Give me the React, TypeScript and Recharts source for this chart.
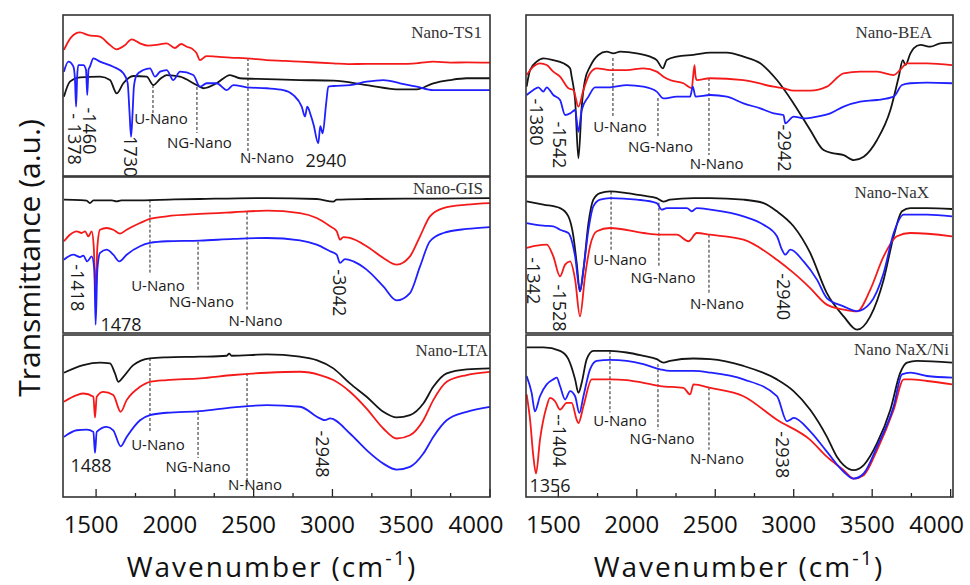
import { LineChart, Line, XAxis, YAxis, ReferenceLine, ReferenceDot } from 'recharts';

type Pt = [number, number]; // [wavenumber, transmittance a.u.]

// ---------- Nano-TS1 ----------
const ts1Black: Pt[] = [[1296,49.3],[1334,58.6],[1398,61.3],[1525,61.7],[1588,59.6],[1631,51.3],[1673,57.6],[1736,62.1],[1821,61.7],[1863,56.5],[1906,60.2],[1948,62.7],[2033,61.7],[2138,56.5],[2181,54.5],[2265,57.6],[2350,62.7],[2413,60.7],[2583,60.2],[2794,59.6],[3006,59.2],[3217,56.5],[3429,53.8],[3535,53.8],[3640,57.6],[3746,59.6],[3852,60.7],[4000,60.7]];
const ts1Red: Pt[] = [[1296,78.3],[1340,86],[1398,89.2],[1450,87.5],[1525,86.5],[1580,82],[1631,78.7],[1680,81],[1726,84.9],[1779,82.4],[1830,81],[1884,81.4],[1948,82.4],[2000,79.5],[2040,82],[2075,80.3],[2110,79],[2138,76.2],[2159,72],[2200,74.5],[2265,74.1],[2350,73.5],[2456,73.1],[2583,72],[2700,71.5],[2794,71],[2900,70.5],[3006,70],[3100,69.5],[3217,69.6],[3429,69.6],[3550,70.2],[3640,71],[3750,70.4],[3852,70.6],[4000,70.4]];
const ts1Blue: Pt[] = [[1296,64.8],[1324,71],[1356,67.9],[1366,60],[1373,43.1],[1380,62],[1387,68.9],[1419,68.9],[1436,66],[1444,50.3],[1452,66],[1461,67.9],[1483,73.1],[1525,71],[1609,67.9],[1673,63.8],[1700,58],[1712,40],[1722,24.4],[1732,40],[1740,55.5],[1758,62.7],[1800,65.8],[1842,66.9],[1874,61.7],[1906,64.8],[1948,65.8],[1990,59.6],[2033,64.8],[2117,62.7],[2159,55.5],[2202,57.6],[2265,57.6],[2329,53.4],[2371,56.5],[2456,55.1],[2583,54.5],[2688,53.4],[2752,50.3],[2805,43.1],[2826,36.9],[2840,43],[2862,37.9],[2880,32],[2910,20.3],[2923,31],[2938,26.5],[2960,45],[2974,55.5],[3006,55.9],[3111,56.5],[3217,58.6],[3323,59.6],[3429,57.6],[3535,55.5],[3640,53.4],[3852,53.4],[4000,53.4]];

// ---------- Nano-GIS ----------
const gisBlack: Pt[] = [[1296,85.5],[1400,85.2],[1440,84.8],[1461,83.3],[1483,85],[1600,85],[1631,84.4],[1660,85],[1736,85],[2000,85.6],[2159,85.9],[2583,86.5],[2900,85.9],[3006,84.2],[3027,85.5],[3217,85.9],[3640,86.2],[4000,86.5]];
const gisRed: Pt[] = [[1296,58.8],[1334,63],[1377,65.2],[1408,64.1],[1430,65.2],[1451,62],[1472,65.2],[1485,55.6],[1497,23.5],[1508,55],[1525,66.2],[1567,67.3],[1609,66.2],[1652,63.7],[1694,66.2],[1779,70.5],[1842,73.1],[1948,74.8],[2159,76.3],[2371,77.4],[2583,78.4],[2794,76.9],[2900,73.7],[2985,68.4],[3027,65.2],[3048,59.8],[3069,61.5],[3111,60.9],[3217,55.6],[3323,48.1],[3408,43.8],[3492,49.1],[3556,62],[3619,74.8],[3704,80.1],[3852,82.3],[4000,83.3]];
const gisBlue: Pt[] = [[1296,47],[1356,50.2],[1398,48.7],[1419,49.6],[1444,45.9],[1472,49.1],[1489,40.6],[1497,5.3],[1508,40.6],[1525,51.3],[1567,53.4],[1609,50.2],[1648,45.9],[1694,50.2],[1779,55.6],[1842,57.7],[1948,58.8],[2159,59.2],[2371,60.3],[2583,60.9],[2794,59.4],[2900,56.6],[2985,52.4],[3027,50.2],[3048,44.9],[3080,47.4],[3133,45.9],[3217,40.6],[3323,29.9],[3408,20.9],[3492,25.6],[3556,42.7],[3619,58.8],[3704,64.1],[3852,66.7],[4000,67.9]];

// ---------- Nano-LTA ----------
const ltaBlack: Pt[] = [[1296,76.7],[1419,81.4],[1525,82.9],[1588,82.5],[1620,76.3],[1641,71.1],[1673,74.2],[1736,81.4],[1842,85.6],[1948,86.2],[2159,86.6],[2329,87.2],[2345,88.5],[2360,87.2],[2583,88],[2794,86.6],[2900,84.5],[3006,79.4],[3111,70.1],[3217,61.9],[3323,52.6],[3408,49.1],[3492,50.5],[3577,57.7],[3640,68],[3725,76.3],[3852,78.8],[4000,79.4]];
const ltaRed: Pt[] = [[1296,58.8],[1377,62.9],[1419,63.9],[1483,61.9],[1493,49.1],[1504,61.9],[1546,64.9],[1609,62.9],[1656,52.6],[1694,59.8],[1779,68],[1842,71.1],[1948,72.2],[2159,73.2],[2371,75.3],[2583,76.7],[2794,77.3],[2921,75.3],[3006,72.2],[3111,65],[3217,54.6],[3323,42.3],[3408,36.1],[3492,38.1],[3577,47.4],[3640,59.8],[3725,71.1],[3852,75.3],[4000,77.3]];
const ltaBlue: Pt[] = [[1296,37.1],[1377,41.2],[1440,41.6],[1483,40.2],[1493,27.2],[1504,40.2],[1567,43.3],[1609,41.2],[1656,31.3],[1694,37.1],[1779,47.4],[1842,50.5],[1948,52],[2159,53],[2371,55.3],[2583,56.7],[2794,55.7],[2921,48.5],[2953,47.4],[2985,48.5],[3111,39.2],[3217,28.9],[3323,20.6],[3408,16.9],[3492,18.6],[3577,26.8],[3640,37.1],[3725,47.4],[3852,52.6],[4000,55.7]];

// ---------- Nano-BEA ----------
const beaBlack: Pt[] = [[1298,55.5],[1320,65.8],[1362,71],[1405,73.1],[1468,72],[1532,70],[1575,66.9],[1585,61.7],[1607,47.2],[1628,11],[1649,43.1],[1670,59.6],[1702,67.9],[1755,75.2],[1808,77.2],[1851,76.2],[1894,77.2],[2000,76.2],[2085,74.1],[2127,72],[2166,66.9],[2191,72],[2255,74.1],[2361,75.2],[2468,76.6],[2574,76.6],[2680,74.1],[2787,70],[2893,59.6],[2999,45.1],[3105,28.6],[3190,16.1],[3254,14.1],[3318,13],[3382,9.9],[3446,12],[3531,22.4],[3616,41],[3670,62],[3695,72],[3712,69],[3743,76],[3764,79.3],[3807,81.4],[3871,80.3],[3934,82.4],[4009,82.8]];
const beaRed: Pt[] = [[1298,62.7],[1341,67.9],[1383,70],[1426,68.9],[1468,64.8],[1511,61.7],[1564,54.5],[1596,53.4],[1628,43.1],[1660,53.4],[1702,63.8],[1745,66.9],[1830,65.8],[1936,65.8],[2042,66.9],[2127,64.8],[2170,61.7],[2212,59.6],[2297,57.6],[2351,54.5],[2357,60],[2368,68.9],[2374,62],[2382,59.6],[2468,60.7],[2680,59.6],[2872,55.5],[2935,54.5],[2999,53],[3105,53],[3211,55.5],[3318,63.8],[3424,64.8],[3531,64.8],[3637,62.7],[3679,66],[3722,70],[3849,70],[4009,68.9]];
const beaBlue: Pt[] = [[1298,50.3],[1341,53.4],[1373,55.1],[1405,52.4],[1426,55.1],[1468,50.3],[1511,47.2],[1543,37.9],[1575,38.9],[1607,41],[1628,27.5],[1649,41],[1692,49.3],[1734,55.1],[1830,55.1],[1936,56.5],[2042,55.5],[2127,52.4],[2170,48.2],[2255,49.3],[2340,49.3],[2357,55.5],[2374,49.3],[2468,50.3],[2574,49.3],[2680,45.1],[2787,42],[2872,38.9],[2935,37.9],[2946,32.7],[2999,36.9],[3063,35.8],[3148,36.9],[3233,38.9],[3318,43.1],[3424,46.2],[3531,47.2],[3637,49.3],[3690,56.5],[3743,57.6],[3849,58],[4009,57.6]];

// ---------- Nano-NaX ----------
const naxBlack: Pt[] = [[1298,84.4],[1405,82.3],[1511,80.1],[1564,74.8],[1596,62],[1617,44.9],[1638,26.7],[1660,40.6],[1692,70.5],[1723,85.5],[1766,89.7],[1830,90.8],[1936,89.7],[2042,88],[2127,86.5],[2170,84.2],[2212,85.5],[2361,86.5],[2468,86.5],[2680,85.5],[2808,83.3],[2893,78],[2999,68.4],[3105,51.3],[3211,25.6],[3318,10.7],[3403,2.1],[3488,10.7],[3573,34.2],[3637,62],[3690,78],[3743,80.1],[3849,80.1],[4009,79.5]];
const naxBlue: Pt[] = [[1298,70.5],[1405,68.8],[1468,68.4],[1511,66.2],[1564,64.1],[1607,49.1],[1638,26.7],[1660,40.6],[1692,66.2],[1723,81.2],[1766,85.5],[1830,86.5],[2000,85.5],[2127,83.3],[2159,79.1],[2191,80.1],[2319,80.1],[2351,78],[2382,80.1],[2468,79.1],[2680,74.8],[2808,69.4],[2893,62],[2925,53.4],[2946,50.2],[2978,53.4],[3063,45.9],[3148,34.2],[3211,22.4],[3318,17.1],[3403,14],[3488,19.2],[3573,38.5],[3637,64.1],[3701,75.9],[3849,75.9],[4009,74.8]];
const naxRed: Pt[] = [[1298,54.5],[1362,56],[1426,56.6],[1468,49.1],[1511,36.3],[1543,43.8],[1575,45.9],[1607,34.2],[1638,10.7],[1670,36.3],[1702,55.6],[1745,65.2],[1830,67.3],[2042,64.1],[2149,63],[2255,63],[2329,58.8],[2382,64.1],[2468,63],[2680,59.8],[2893,47],[2999,38.5],[3105,28.8],[3211,18.2],[3318,15],[3403,13.9],[3488,27.8],[3573,49.1],[3658,62],[3743,64.1],[4009,62]];

// ---------- Nano NaX/Ni ----------
const niBlack: Pt[] = [[1298,92.3],[1405,92.3],[1511,90.2],[1564,85.1],[1607,72.6],[1628,64.3],[1649,70.5],[1681,85.1],[1723,90.2],[1830,90.2],[1936,89.2],[2042,87.1],[2127,85.1],[2170,83],[2212,84],[2361,85.5],[2468,85.1],[2680,80.9],[2893,72.6],[2999,65.4],[3105,53.9],[3211,37.3],[3275,24.9],[3318,19.7],[3382,16.6],[3446,19.7],[3531,33.2],[3616,53.9],[3679,76.8],[3722,83],[3786,84],[4009,83]];
const niBlue: Pt[] = [[1298,74.7],[1330,64.3],[1351,52.9],[1383,62.2],[1426,69.5],[1468,72.6],[1490,73.7],[1511,68.5],[1543,60.2],[1575,65.4],[1607,62.2],[1634,51.9],[1660,62.2],[1702,78.8],[1745,84],[1830,84.6],[1936,84],[2042,82],[2149,78.8],[2212,77.8],[2361,77.8],[2468,76.8],[2680,72.6],[2893,62.2],[2957,46.7],[2978,47.7],[2999,48.8],[3105,40.5],[3211,28],[3318,15.6],[3382,11.4],[3446,14.5],[3531,31.1],[3637,56],[3690,75.7],[3743,76.8],[3849,74.7],[4009,73.7]];
const niRed: Pt[] = [[1298,63.3],[1320,47.7],[1341,24.9],[1358,14.5],[1383,35.3],[1426,56],[1447,61.2],[1479,59.1],[1511,53.9],[1553,58.1],[1585,58.1],[1617,47.7],[1628,45.6],[1660,56],[1713,72.6],[1830,72.6],[1936,72.2],[2042,70.5],[2149,68.5],[2297,67.4],[2340,63.3],[2361,69.5],[2468,67.4],[2680,62.2],[2893,47.7],[3105,35.3],[3211,24.9],[3318,16.6],[3382,11.4],[3446,13.5],[3531,29],[3637,53.9],[3701,72.6],[3743,72.6],[3849,71.6],[4009,69.5]];

// dashed sample markers: [wavenumber, top, bottom]
type Guide = [number, number, number];
// labels: [text, wavenumber, level, vertical?, big?]
type Note = [string, number, number, boolean, boolean];

const ts1Guides: Guide[] = [[1861, 56.5, 37.9], [2140, 55.3, 26.7], [2464, 73.3, 14.9]];
const ts1Notes: Note[] = [['U-Nano', 1912, 36, false, false], ['NG-Nano', 2156, 21.1, false, false], ['N-Nano', 2585, 11.8, false, false], ['2940', 2959, 9.9, false, true], ['- 1378', 1366, 23, true, true], ['-1460', 1461, 28, true, true], ['1730', 1722, 12, true, true]];
const gisGuides: Guide[] = [[1842, 85.5, 37.4], [2147, 58.5, 26.5], [2458, 77.8, 13.7]];
const gisNotes: Note[] = [['U-Nano', 1893, 31, false, false], ['NG-Nano', 2169, 20.7, false, false], ['N-Nano', 2512, 8.5, false, false], ['-1418', 1385, 29, true, true], ['1478', 1658, 5.8, false, true], ['-3042', 3048, 25.8, true, true]];
const ltaGuides: Guide[] = [[1842, 85.8, 40.1], [2147, 52.5, 24.1], [2458, 76.5, 6.2]];
const ltaNotes: Note[] = [['U-Nano', 1893, 32.7, false, false], ['NG-Nano', 2147, 19.1, false, false], ['N-Nano', 2509, 8, false, false], ['1488', 1468, 19.8, false, true], ['-2948', 2940, 26.5, true, true]];
const beaGuides: Guide[] = [[1848, 73.3, 36.6], [2135, 48.4, 24.2], [2460, 60.9, 13]];
const beaNotes: Note[] = [['U-Nano', 1893, 31, false, false], ['NG-Nano', 2151, 18.6, false, false], ['N-Nano', 2509, 8.1, false, false], ['-1380', 1364, 33.5, true, true], ['-1542', 1511, 19.3, true, true], ['-2942', 2944, 17.4, true, true]];
const naxGuides: Guide[] = [[1836, 90.6, 53.4], [2141, 83.5, 41.9], [2460, 63, 25.8]];
const naxNotes: Note[] = [['U-Nano', 1893, 47.6, false, false], ['NG-Nano', 2167, 36.1, false, false], ['N-Nano', 2511, 19.4, false, false], ['-1342', 1343, 33.5, true, true], ['-1528', 1511, 16, true, true], ['-2940', 2938, 23.3, true, true]];
const niGuides: Guide[] = [[1829, 90, 52.2], [2135, 82, 41.6], [2460, 67.7, 29.2]];
const niNotes: Note[] = [['U-Nano', 1893, 47.8, false, false], ['NG-Nano', 2161, 36.6, false, false], ['N-Nano', 2511, 24.2, false, false], ['1356', 1447, 7.5, false, true], ['--1404', 1511, 34.8, true, true], ['-2938', 2932, 26.1, true, true]];

const axisTicks = [1500, 1750, 2000, 2250, 2500, 2750, 3000, 3250, 3500, 3750, 4000];

const SANS = "'Open Sans', 'DejaVu Sans', sans-serif";
const SERIF = "'Liberation Serif', 'DejaVu Serif', serif";

const toXY = (pts: Pt[]) => pts.map(([x, y]) => ({ x, y }));

function AxisTick(props: any) {
  const { x, y, payload } = props;
  const v = payload.value as number;
  const major = v % 500 === 0;
  return (
    <g>
      <line x1={x} x2={x} y1={y} y2={y - (major ? 8 : 4)} stroke="#222" strokeWidth={1.3} />
      {major && (
        <text x={x + (v === 4000 ? -14 : -5)} y={y + 36} textAnchor="middle" fontSize={24} fontFamily={SANS} fill="#111">
          {v}
        </text>
      )}
    </g>
  );
}

interface PanelProps {
  left: number;
  top: number;
  height: number;
  domain: [number, number];
  black: Pt[];
  red: Pt[];
  blue: Pt[];
  guides: Guide[];
  notes: Note[];
  axis?: boolean;
}

// spare room round the plot so that labels near the frame are not clipped
const PAD_LEFT = 12;
const PAD_RIGHT = 40;
const PAD_BOTTOM = 14;

function Panel({ left, top, height, domain, black, red, blue, guides, notes, axis }: PanelProps) {
  const axisH = axis ? 60 : 0;
  return (
    <div style={{ position: 'absolute', left: left - PAD_LEFT, top }}>
      <LineChart
        width={427 + PAD_LEFT + PAD_RIGHT}
        height={height + axisH + PAD_BOTTOM}
        margin={{ top: 0, right: PAD_RIGHT, bottom: PAD_BOTTOM, left: PAD_LEFT }}
      >
        <XAxis
          type="number"
          dataKey="x"
          domain={domain}
          allowDataOverflow
          hide={!axis}
          height={axisH}
          ticks={axisTicks}
          interval={0}
          tick={<AxisTick />}
          tickLine={false}
          axisLine={false}
          tickSize={0}
          tickMargin={0}
        />
        <YAxis type="number" domain={[0, 100]} hide allowDataOverflow />
        {guides.map(([wn, a, b], i) => (
          <ReferenceLine
            key={'g' + i}
            segment={[{ x: wn, y: a }, { x: wn, y: b }]}
            stroke="#222"
            strokeWidth={1}
            strokeDasharray="3 2"
          />
        ))}
        <Line data={toXY(black)} dataKey="y" type="monotone" stroke="#151515" strokeWidth={1.8} dot={false} isAnimationActive={false} />
        <Line data={toXY(red)} dataKey="y" type="monotone" stroke="#f51a1a" strokeWidth={1.8} dot={false} isAnimationActive={false} />
        <Line data={toXY(blue)} dataKey="y" type="monotone" stroke="#1f1fff" strokeWidth={1.8} dot={false} isAnimationActive={false} />
        {notes.map(([text, wn, t, vertical, big], i) => (
          <ReferenceDot
            key={'n' + i}
            x={wn}
            y={t}
            r={0}
            shape={(p: any) => (
              <text
                x={p.cx}
                y={p.cy}
                textAnchor="middle"
                dominantBaseline="central"
                fontSize={big ? 18 : 15}
                fontFamily={SANS}
                fill="#1a1a1a"
                transform={vertical ? `rotate(90 ${p.cx} ${p.cy})` : undefined}
              >
                {text}
              </text>
            )}
          />
        ))}
      </LineChart>
    </div>
  );
}

const LEFT_DOMAIN: [number, number] = [1290, 4000];
const RIGHT_DOMAIN: [number, number] = [1294, 4015];

export default function App() {
  const frames = [
    [63, 15, 161], [63, 177, 156], [63, 335, 162],
    [526, 15, 161], [526, 177, 156], [526, 335, 162],
  ];
  return (
    <div style={{ position: 'absolute', left: 0, top: 0, width: 970, height: 585, background: '#fff', overflow: 'hidden' }}>
      <Panel left={63} top={15} height={161} domain={LEFT_DOMAIN} black={ts1Black} red={ts1Red} blue={ts1Blue} guides={ts1Guides} notes={ts1Notes} />
      <Panel left={63} top={177} height={156} domain={LEFT_DOMAIN} black={gisBlack} red={gisRed} blue={gisBlue} guides={gisGuides} notes={gisNotes} />
      <Panel left={63} top={335} height={162} domain={LEFT_DOMAIN} black={ltaBlack} red={ltaRed} blue={ltaBlue} guides={ltaGuides} notes={ltaNotes} axis />
      <Panel left={526} top={15} height={161} domain={RIGHT_DOMAIN} black={beaBlack} red={beaRed} blue={beaBlue} guides={beaGuides} notes={beaNotes} />
      <Panel left={526} top={177} height={156} domain={RIGHT_DOMAIN} black={naxBlack} red={naxRed} blue={naxBlue} guides={naxGuides} notes={naxNotes} />
      <Panel left={526} top={335} height={162} domain={RIGHT_DOMAIN} black={niBlack} red={niRed} blue={niBlue} guides={niGuides} notes={niNotes} axis />

      <svg width={970} height={585} style={{ position: 'absolute', left: 0, top: 0, pointerEvents: 'none' }}>
        {frames.map(([x, y, h], i) => (
          <rect key={i} x={x} y={y} width={427} height={h} fill="none" stroke="#333" strokeWidth={1.6} />
        ))}
        <g fontFamily={SERIF} fontSize={17} fill="#333" textAnchor="end">
          <text x={482} y={38}>Nano-TS1</text>
          <text x={483} y={194}>Nano-GIS</text>
          <text x={488} y={356}>Nano-LTA</text>
          <text x={932} y={38}>Nano-BEA</text>
          <text x={929} y={198}>Nano-NaX</text>
          <text x={949} y={355}>Nano NaX/Ni</text>
        </g>
        <g fontFamily={SANS} fontSize={28} fill="#111" textAnchor="middle" letterSpacing={2}>
          <text x={272} y={577}>
            Wavenumber (cm<tspan dy={-12} fontSize={20}>-1</tspan><tspan dy={12}>)</tspan>
          </text>
          <text x={739} y={577}>
            Wavenumber (cm<tspan dy={-12} fontSize={20}>-1</tspan><tspan dy={12}>)</tspan>
          </text>
        </g>
        <text
          x={28}
          y={258}
          transform="rotate(-90 28 258)"
          textAnchor="middle"
          dominantBaseline="central"
          fontFamily={SANS}
          fontSize={30}
          fill="#111"
        >
          Transmittance (a.u.)
        </text>
      </svg>
    </div>
  );
}
